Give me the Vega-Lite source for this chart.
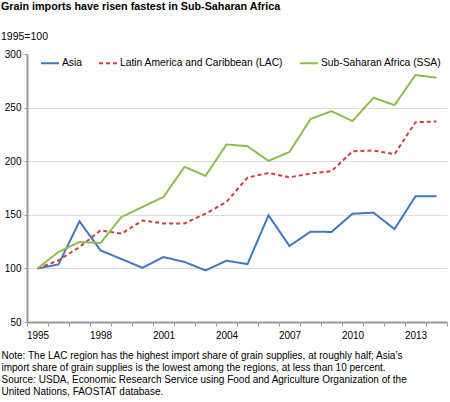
{
  "$schema": "https://vega.github.io/schema/vega-lite/v6.json",
  "width": 420,
  "height": 268,
  "autosize": "none",
  "padding": {"left": 27, "top": 54, "right": 3, "bottom": 80},
  "config": {"font": "Liberation Sans", "view": {"stroke": null}},
  "title": {
    "text": "Grain imports have risen fastest in Sub-Saharan Africa",
    "subtitle": "1995=100",
    "anchor": "start",
    "frame": "bounds",
    "fontSize": 10.75,
    "fontWeight": "bold",
    "color": "#000000",
    "subtitleFontSize": 10.5,
    "subtitleColor": "#000000",
    "subtitlePadding": 18.5,
    "offset": 6
  },
  "data": {
    "values": [
      {"year": 1995, "region": "Asia", "value": 100},
      {"year": 1996, "region": "Asia", "value": 103.7},
      {"year": 1997, "region": "Asia", "value": 143.9},
      {"year": 1998, "region": "Asia", "value": 116.8},
      {"year": 1999, "region": "Asia", "value": 108.7},
      {"year": 2000, "region": "Asia", "value": 100.6},
      {"year": 2001, "region": "Asia", "value": 110.6},
      {"year": 2002, "region": "Asia", "value": 106},
      {"year": 2003, "region": "Asia", "value": 98.1},
      {"year": 2004, "region": "Asia", "value": 107.2},
      {"year": 2005, "region": "Asia", "value": 104},
      {"year": 2006, "region": "Asia", "value": 149.5},
      {"year": 2007, "region": "Asia", "value": 120.9},
      {"year": 2008, "region": "Asia", "value": 134.3},
      {"year": 2009, "region": "Asia", "value": 134},
      {"year": 2010, "region": "Asia", "value": 151},
      {"year": 2011, "region": "Asia", "value": 152},
      {"year": 2012, "region": "Asia", "value": 136.7},
      {"year": 2013, "region": "Asia", "value": 167.3},
      {"year": 2014, "region": "Asia", "value": 167.3},
      {"year": 1995, "region": "Latin America and Caribbean (LAC)", "value": 100},
      {"year": 1996, "region": "Latin America and Caribbean (LAC)", "value": 107.5},
      {"year": 1997, "region": "Latin America and Caribbean (LAC)", "value": 119.9},
      {"year": 1998, "region": "Latin America and Caribbean (LAC)", "value": 135.5},
      {"year": 1999, "region": "Latin America and Caribbean (LAC)", "value": 132.4},
      {"year": 2000, "region": "Latin America and Caribbean (LAC)", "value": 144.6},
      {"year": 2001, "region": "Latin America and Caribbean (LAC)", "value": 142},
      {"year": 2002, "region": "Latin America and Caribbean (LAC)", "value": 142},
      {"year": 2003, "region": "Latin America and Caribbean (LAC)", "value": 151},
      {"year": 2004, "region": "Latin America and Caribbean (LAC)", "value": 162},
      {"year": 2005, "region": "Latin America and Caribbean (LAC)", "value": 184.7},
      {"year": 2006, "region": "Latin America and Caribbean (LAC)", "value": 189},
      {"year": 2007, "region": "Latin America and Caribbean (LAC)", "value": 185},
      {"year": 2008, "region": "Latin America and Caribbean (LAC)", "value": 188.5},
      {"year": 2009, "region": "Latin America and Caribbean (LAC)", "value": 190.7},
      {"year": 2010, "region": "Latin America and Caribbean (LAC)", "value": 209.3},
      {"year": 2011, "region": "Latin America and Caribbean (LAC)", "value": 210},
      {"year": 2012, "region": "Latin America and Caribbean (LAC)", "value": 206.5},
      {"year": 2013, "region": "Latin America and Caribbean (LAC)", "value": 236.4},
      {"year": 2014, "region": "Latin America and Caribbean (LAC)", "value": 237},
      {"year": 1995, "region": "Sub-Saharan Africa (SSA)", "value": 100},
      {"year": 1996, "region": "Sub-Saharan Africa (SSA)", "value": 115.3},
      {"year": 1997, "region": "Sub-Saharan Africa (SSA)", "value": 124.6},
      {"year": 1998, "region": "Sub-Saharan Africa (SSA)", "value": 123.7},
      {"year": 1999, "region": "Sub-Saharan Africa (SSA)", "value": 148},
      {"year": 2000, "region": "Sub-Saharan Africa (SSA)", "value": 157.3},
      {"year": 2001, "region": "Sub-Saharan Africa (SSA)", "value": 166.6},
      {"year": 2002, "region": "Sub-Saharan Africa (SSA)", "value": 194.7},
      {"year": 2003, "region": "Sub-Saharan Africa (SSA)", "value": 186.3},
      {"year": 2004, "region": "Sub-Saharan Africa (SSA)", "value": 215.6},
      {"year": 2005, "region": "Sub-Saharan Africa (SSA)", "value": 214},
      {"year": 2006, "region": "Sub-Saharan Africa (SSA)", "value": 200.3},
      {"year": 2007, "region": "Sub-Saharan Africa (SSA)", "value": 208.7},
      {"year": 2008, "region": "Sub-Saharan Africa (SSA)", "value": 239.3},
      {"year": 2009, "region": "Sub-Saharan Africa (SSA)", "value": 246.7},
      {"year": 2010, "region": "Sub-Saharan Africa (SSA)", "value": 237.4},
      {"year": 2011, "region": "Sub-Saharan Africa (SSA)", "value": 259.2},
      {"year": 2012, "region": "Sub-Saharan Africa (SSA)", "value": 252.3},
      {"year": 2013, "region": "Sub-Saharan Africa (SSA)", "value": 280.4},
      {"year": 2014, "region": "Sub-Saharan Africa (SSA)", "value": 277.9}
    ]
  },
  "mark": {"type": "line", "strokeWidth": 2},
  "encoding": {
    "x": {
      "field": "year",
      "type": "ordinal",
      "bandPosition": 0.5,
      "scale": {"type": "band", "paddingInner": 0, "paddingOuter": 0},
      "axis": {
        "tickBand": "extent",
        "labelExpr": "(+datum.value - 1995) % 3 == 0 ? datum.label : ''",
        "labelAngle": 0,
        "labelOverlap": false,
        "labelFontSize": 10,
        "labelColor": "#000000",
        "labelPadding": 4,
        "domainColor": "#9a9a9a",
        "domainWidth": 2,
        "tickColor": "#9a9a9a",
        "tickSize": 4,
        "tickWidth": 1,
        "grid": false,
        "title": [
          "Note: The LAC region has the highest import share of grain supplies, at roughly half; Asia’s",
          "import share of grain supplies is the lowest among the regions, at less than 10 percent.",
          "Source: USDA, Economic Research Service using Food and Agriculture Organization of the",
          "United Nations, FAOSTAT database."
        ],
        "titleX": -26,
        "titleY": 28,
        "titleAlign": "left",
        "titleAnchor": "start",
        "titleBaseline": "top",
        "titleFontWeight": "normal",
        "titleFontSize": 10,
        "titleLineHeight": 12,
        "titleColor": "#000000",
        "titleLimit": 1000
      }
    },
    "y": {
      "field": "value",
      "type": "quantitative",
      "scale": {"domain": [50, 300], "nice": false, "zero": false},
      "axis": {
        "values": [50, 100, 150, 200, 250, 300],
        "title": null,
        "grid": true,
        "gridColor": "#dcdcdc",
        "gridOpacity": {"condition": {"test": "datum.value == 300 || datum.value == 50", "value": 0}, "value": 1},
        "domainColor": "#9a9a9a",
        "domainWidth": 2,
        "tickColor": "#9a9a9a",
        "tickSize": 3,
        "labelPadding": 3,
        "labelFontSize": 10,
        "labelColor": "#000000"
      }
    },
    "color": {
      "field": "region",
      "type": "nominal",
      "scale": {
        "domain": ["Asia", "Latin America and Caribbean (LAC)", "Sub-Saharan Africa (SSA)"],
        "range": ["#3f77c0", "#cf3f3f", "#8fbd4c"]
      },
      "legend": {
        "orient": "none",
        "legendX": 13,
        "legendY": -1,
        "direction": "horizontal",
        "title": null,
        "symbolType": "stroke",
        "symbolSize": 324,
        "symbolStrokeWidth": 2,
        "labelFontSize": 10.3,
        "labelOffset": 2,
        "labelLimit": 300,
        "columnPadding": 12,
        "labelColor": "#000000"
      }
    },
    "strokeDash": {
      "field": "region",
      "type": "nominal",
      "scale": {
        "domain": ["Asia", "Latin America and Caribbean (LAC)", "Sub-Saharan Africa (SSA)"],
        "range": [[1, 0], [4, 3], [1, 0]]
      },
      "legend": {
        "orient": "none",
        "legendX": 13,
        "legendY": -1,
        "direction": "horizontal",
        "title": null,
        "symbolType": "stroke",
        "symbolSize": 324,
        "symbolStrokeWidth": 2,
        "labelFontSize": 10.3,
        "labelOffset": 2,
        "labelLimit": 300,
        "columnPadding": 12,
        "labelColor": "#000000"
      }
    }
  }
}
